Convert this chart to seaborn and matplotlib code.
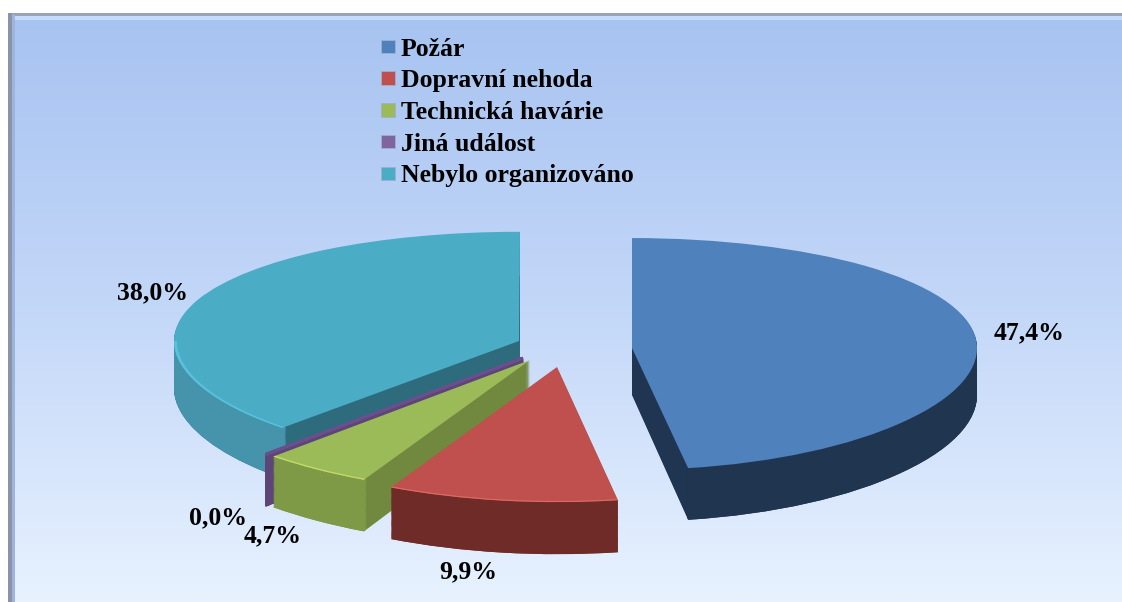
import matplotlib
matplotlib.use("Agg")
import matplotlib.pyplot as plt
import seaborn as sns
import numpy as np
from matplotlib.patches import Patch, Rectangle

# Data
categories = ["Požár", "Dopravní nehoda", "Technická havárie", "Jiná událost", "Nebylo organizováno"]
values = [47.4, 9.9, 4.7, 0.04, 38.0]

# Look of each slice, same order as categories
top_colors = sns.color_palette(["#4f81bd", "#c0504d", "#9bbb59", "#6a4f8c", "#4bacc6"])
inner_colors = ["#1f3552", "#6e2b27", "#71883f", "#5d4677", "#2d6b7d"]
outer_colors = ["#20354f", "#6e2b27", "#7f9a47", "#5d4677", "#4594ab"]
shine_colors = [None, "#de6a64", "#c3da6b", None, "#58c2de"]
apex_x = [632, 557, 530, 523, 519]
apex_y = [348, 367, 360, 358, 341]
radii = [345, 375, 375, 375, 345]
label_pos = [(1029, 333), (468, 572), (273, 536), (218, 518), (153, 293)]
draw_order = [4, 0, 3, 2, 1]
depth = 47

sns.set_theme(style="white")
plt.rcParams["font.family"] = ["Liberation Serif", "DejaVu Serif"]

# Perspective: the front of the pie is a bit taller than the back
a, c = 0.335, 5e-5


def forward(u):
    u = np.asarray(u, dtype=float)
    return -(345 - a * u + c * u ** 2)


def inverse(s):
    s = np.asarray(s, dtype=float)
    disc = np.clip(a ** 2 - 4 * c * (345 + s), 0, None)
    return (a - np.sqrt(disc)) / (2 * c)


def to_u(py):
    return float(inverse(-py))


f = plt.figure(figsize=(11.22, 6.02), dpi=100, facecolor="white")

# Background panel with its gradient and bevel
bg = f.add_axes([0, 0, 1, 1])
bg.axis("off")
gradient = np.linspace(0, 1, 256).reshape(-1, 1)
cmap = matplotlib.colors.LinearSegmentedColormap.from_list("panel", ["#a7c3f1", "#c3d7f8", "#e8f2ff"])
bg.imshow(gradient, extent=(8, 1122, 602, 13), cmap=cmap, aspect="auto", zorder=0)
bg.set_xlim(0, 1122)
bg.set_ylim(602, 0)
bg.add_patch(Rectangle((8, 13), 1114, 2.5, color="#9aa3b8", lw=0, zorder=1))
bg.add_patch(Rectangle((14, 16), 1108, 4, color="#c4dcfb", lw=0, zorder=1))
bg.add_patch(Rectangle((8, 13), 4, 589, color="#8a93a8", lw=0, zorder=2))
bg.add_patch(Rectangle((12, 15), 3, 587, color="#9db4dc", lw=0, zorder=2))

ax = f.add_axes([0, 0, 1, 1])
ax.patch.set_alpha(0)


def wedge(i, py, start, color, width=None, lw=0, span=None):
    props = {"linewidth": lw, "edgecolor": color}
    if width is not None:
        props["width"] = width
    share = values[i] if span is None else span
    patches, _ = ax.pie([share / 100], normalize=False, startangle=90 - 3.6 * start,
                        counterclock=False, colors=[color], radius=radii[i],
                        center=(apex_x[i], to_u(py)), wedgeprops=props)
    return patches[0]


# Slices are stacked from the bottom up to get the thickness
starts = np.concatenate([[0], np.cumsum(values)[:-1]])
for i in draw_order:
    lw = 2 if i == 3 else 0
    for d in range(depth, 0, -1):
        wedge(i, apex_y[i] + d, starts[i], inner_colors[i], lw=lw)
    for d in range(depth, 0, -1):
        wedge(i, apex_y[i] + d, starts[i], outer_colors[i], width=6, lw=lw)
    wedge(i, apex_y[i], starts[i], top_colors[i], lw=lw)
    if shine_colors[i] is not None:
        # the teal slice only shines on its front part, up to the left-most point
        span = 75 - starts[i] if i == 4 else None
        wedge(i, apex_y[i], starts[i], shine_colors[i], width=3, span=span)

# Percentages
for i, (x, y) in enumerate(label_pos):
    text = f"{values[i]:.1f}".replace(".", ",") + "%"
    ax.text(x, to_u(y), text, ha="center", va="center", fontsize=18.5, fontweight="bold", color="black")

ax.set_aspect("auto")
ax.set_yscale("function", functions=(forward, inverse))
ax.set_xlim(0, 1122)
ax.set_ylim(to_u(602), to_u(0))
ax.set_xticks([])
ax.set_yticks([])
ax.minorticks_off()

# Legend
handles = [Patch(facecolor=col, edgecolor="#9fb0cc", linewidth=0.6) for col in top_colors]
handles[3] = Patch(facecolor="#8064a2", edgecolor="#9fb0cc", linewidth=0.6)
ax.legend(handles, categories, loc="upper left", bbox_to_anchor=(360 / 1122, 1 - 17 / 602),
          frameon=False, labelcolor="black",
          prop={"family": "Liberation Serif", "weight": "bold", "size": 18.5},
          handlelength=0.58, handleheight=0.43, handletextpad=0.2, labelspacing=0.34, borderpad=0.3)

plt.savefig("out.png", dpi=100)
